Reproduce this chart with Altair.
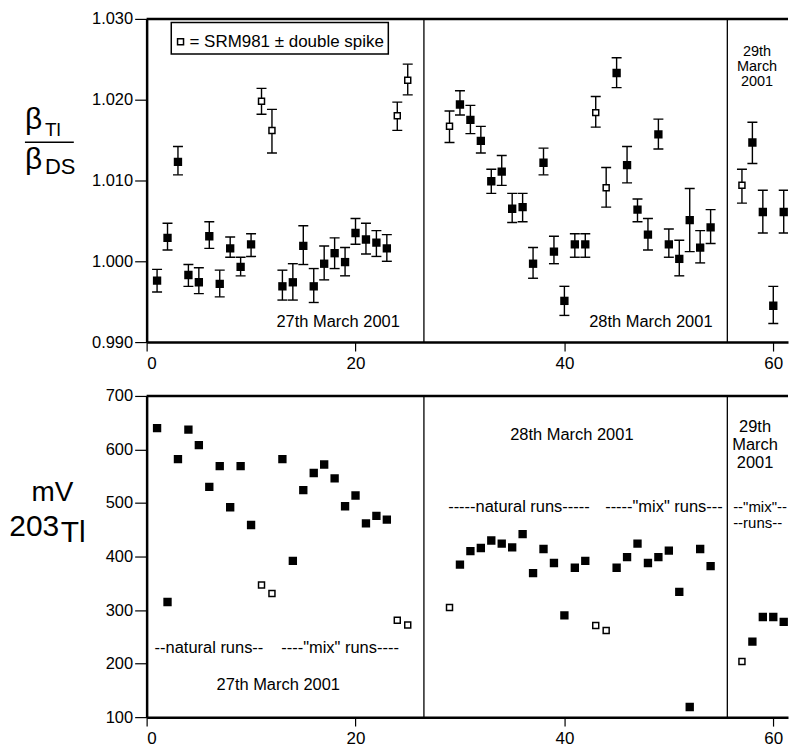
import altair as alt
import pandas as pd

FONT = "Liberation Sans"

# ---- run numbers, one list per measurement day ----
runs_27 = [1, 2, 3, 4, 5, 6, 7, 8, 9, 10, 11, 12, 13, 14, 15, 16, 17, 18, 19, 20,
           21, 22, 23, 24, 25]
runs_28 = [29, 30, 31, 32, 33, 34, 35, 36, 37, 38, 39, 40, 41, 42, 43, 44, 45, 46,
           47, 48, 49, 50, 51, 52, 53, 54]
runs_29 = [57, 58, 59, 60, 61]

# runs measured on SRM981 (+/- double spike), drawn as open squares
srm_runs = [11, 12, 24, 25, 29, 43, 44, 57]

# ---- beta(Tl) / beta(DS) with upper and lower error-bar ends ----
beta_27 = [0.9976, 1.0029, 1.0123, 0.9983, 0.9974, 1.0031, 0.9972, 1.0016, 0.9993,
           1.0021, 1.0198, 1.0162, 0.9969, 0.9974, 1.0019, 0.9969, 0.9997, 1.0010,
           0.9999, 1.0035, 1.0027, 1.0023, 1.0016, 1.0180, 1.0224]
hi_27 = [0.9990, 1.0047, 1.0142, 0.9996, 0.9992, 1.0049, 0.9989, 1.0030, 1.0005,
         1.0034, 1.0214, 1.0188, 0.9989, 0.9997, 1.0044, 0.9991, 1.0019, 1.0029,
         1.0017, 1.0053, 1.0047, 1.0038, 1.0033, 1.0197, 1.0244]
lo_27 = [0.9962, 1.0014, 1.0107, 0.9969, 0.9960, 1.0016, 0.9956, 1.0005, 0.9982,
         1.0006, 1.0182, 1.0134, 0.9952, 0.9952, 0.9996, 0.9949, 0.9977, 0.9991,
         0.9982, 1.0021, 1.0009, 1.0006, 1.0000, 1.0162, 1.0206]

beta_28 = [1.0167, 1.0194, 1.0175, 1.0149, 1.0099, 1.0111, 1.0065, 1.0067, 0.9997,
           1.0122, 1.0012, 0.9951, 1.0021, 1.0021, 1.0184, 1.0091, 1.0233, 1.0119,
           1.0064, 1.0033, 1.0157, 1.0021, 1.0003, 1.0051, 1.0017, 1.0042]
hi_28 = [1.0186, 1.0211, 1.0193, 1.0167, 1.0114, 1.0131, 1.0084, 1.0084, 1.0017,
         1.0140, 1.0031, 0.9969, 1.0034, 1.0034, 1.0204, 1.0116, 1.0252, 1.0142,
         1.0077, 1.0053, 1.0176, 1.0040, 1.0026, 1.0090, 1.0038, 1.0064]
lo_28 = [1.0147, 1.0181, 1.0158, 1.0134, 1.0084, 1.0094, 1.0048, 1.0049, 0.9979,
         1.0107, 0.9997, 0.9933, 1.0005, 1.0005, 1.0166, 1.0067, 1.0215, 1.0097,
         1.0049, 1.0014, 1.0139, 1.0005, 0.9982, 1.0012, 0.9998, 1.0022]

beta_29 = [1.0094, 1.0147, 1.0061, 0.9945, 1.0061]
hi_29 = [1.0114, 1.0172, 1.0088, 0.9969, 1.0088]
lo_29 = [1.0072, 1.0121, 1.0035, 0.9923, 1.0035]

# ---- 203Tl beam intensity (mV) ----
mv_27 = [640, 315, 582, 637, 608, 530, 569, 492, 569, 459, 347, 331, 582, 392, 524,
         556, 572, 546, 494, 514, 462, 476, 469, 281, 272]
mv_28 = [305, 385, 410, 416, 430, 424, 417, 442, 369, 414, 388, 290, 379, 392, 271,
         262, 379, 399, 424, 388, 399, 411, 334, 119, 414, 382]
mv_29 = [204, 241, 287, 287, 278]

# boundaries between measurement days (run axis)
day_breaks = [26.55, 55.6]

runs = runs_27 + runs_28 + runs_29
df = pd.DataFrame({
    "run": runs,
    "beta": beta_27 + beta_28 + beta_29,
    "hi": hi_27 + hi_28 + hi_29,
    "lo": lo_27 + lo_28 + lo_29,
    "mv": mv_27 + mv_28 + mv_29,
    "kind": ["SRM981" if r in srm_runs else "sample" for r in runs],
})

W = 643          # plot width (px)
H_TOP = 324
H_BOT = 322
XMAX = 61.41

one = pd.DataFrame({"k": [0]})

xs = alt.Scale(domain=[0, XMAX], nice=False, zero=False)
x_axis = alt.Axis(values=[0, 20, 40, 60], format="d", title=None, grid=False,
                  labelFont=FONT, labelFontSize=17, labelColor="black", labelPadding=4,
                  tickSize=9, tickWidth=1.2, tickColor="black",
                  domainWidth=2.5, domainColor="black")


def y_axis(values, fmt):
    return alt.Axis(values=values, format=fmt, title=None, grid=False,
                    labelFont=FONT, labelFontSize=16.5, labelColor="black",
                    labelPadding=2, tickSize=12, tickWidth=1.2, tickColor="black",
                    domainWidth=2.5, domainColor="black")


def label(text, px, py, size=16.5, align="center", baseline="middle", clip=False):
    return alt.Chart(one).mark_text(
        text=text, font=FONT, fontSize=size, align=align, baseline=baseline,
        color="black", clip=clip,
    ).encode(x=alt.value(px), y=alt.value(py))


def panel_frame():
    top_edge = alt.Chart(one).mark_rule(color="black", strokeWidth=2.5).encode(
        x=alt.value(0), x2=alt.value(W), y=alt.value(0))
    seps = alt.Chart(pd.DataFrame({"sep": day_breaks})).mark_rule(
        color="black", strokeWidth=1.3).encode(x=alt.X("sep:Q", scale=xs, axis=x_axis))
    return [top_edge, seps]


# ---------------- upper panel: beta ratio ----------------
ys_top = alt.Scale(domain=[0.990, 1.030], nice=False, zero=False)
yax_top = y_axis([0.990, 1.000, 1.010, 1.020, 1.030], ".3f")


def YT(field):
    return alt.Y(field, type="quantitative", scale=ys_top, axis=yax_top)


X = alt.X("run:Q", scale=xs, axis=x_axis)
base = alt.Chart(df)

err = base.mark_rule(color="black", strokeWidth=1.4, clip=True).encode(
    x=X, y=YT("lo"), y2="hi:Q")
cap_hi = base.mark_rule(color="black", strokeWidth=1.4, xOffset=-5, x2Offset=5,
                        clip=True).encode(x=X, x2="run:Q", y=YT("hi"))
cap_lo = base.mark_rule(color="black", strokeWidth=1.4, xOffset=-5, x2Offset=5,
                        clip=True).encode(x=X, x2="run:Q", y=YT("lo"))
pts = base.transform_filter(alt.datum.kind == "sample").mark_point(
    shape="square", filled=True, color="black", size=70, opacity=1, clip=True
).encode(x=X, y=YT("beta"))
pts_open = base.transform_filter(alt.datum.kind == "SRM981").mark_point(
    shape="square", filled=True, fill="white", stroke="black", strokeWidth=1.5,
    size=36, opacity=1, clip=True
).encode(x=X, y=YT("beta"))

legend_box = alt.Chart(one).mark_rect(fill="white", stroke="black", strokeWidth=1.5).encode(
    x=alt.value(24.7), x2=alt.value(242.3), y=alt.value(3.5), y2=alt.value(35.3))
legend_sym = alt.Chart(one).mark_point(
    shape="square", filled=True, fill="white", stroke="black", strokeWidth=1.5,
    size=36, opacity=1).encode(x=alt.value(34), y=alt.value(23))
legend_txt = label("= SRM981 \u00b1 double spike", 43, 23, size=17, align="left")

frac_line = alt.Chart(one).mark_rule(color="black", strokeWidth=1.5).encode(
    x=alt.value(-122), x2=alt.value(-73), y=alt.value(123.7))

top = alt.layer(
    *panel_frame(),
    err, cap_hi, cap_lo, pts, pts_open,
    legend_box, legend_sym, legend_txt,
    label("27th March 2001", 192, 304),
    label("28th March 2001", 505.5, 304),
    label("29th", 612, 33, size=14.5),
    label("March", 612, 48, size=14.5),
    label("2001", 612, 63, size=14.5),
    label("\u03b2", -122, 110, size=30, align="left", baseline="alphabetic"),
    label("Tl", -102, 117, size=19, align="left", baseline="alphabetic"),
    frac_line,
    label("\u03b2", -122, 150, size=30, align="left", baseline="alphabetic"),
    label("DS", -102, 155, size=22, align="left", baseline="alphabetic"),
).properties(width=W, height=H_TOP)

# ---------------- lower panel: 203Tl signal ----------------
ys_bot = alt.Scale(domain=[100, 700], nice=False, zero=False)
yax_bot = y_axis([100, 200, 300, 400, 500, 600, 700], "d")


def YB(field):
    return alt.Y(field, type="quantitative", scale=ys_bot, axis=yax_bot)


mv_pts = base.transform_filter(alt.datum.kind == "sample").mark_point(
    shape="square", filled=True, color="black", size=70, opacity=1, clip=True
).encode(x=X, y=YB("mv"))
mv_open = base.transform_filter(alt.datum.kind == "SRM981").mark_point(
    shape="square", filled=True, fill="white", stroke="black", strokeWidth=1.5,
    size=36, opacity=1, clip=True
).encode(x=X, y=YB("mv"))

bottom = alt.layer(
    *panel_frame(),
    mv_pts, mv_open,
    label("--natural runs--", 8, 253, align="left"),
    label("----\"mix\" runs----", 135, 253, align="left"),
    label("27th March 2001", 132, 290),
    label("28th March 2001", 426.3, 39),
    label("-----natural runs-----", 302.3, 111.7, align="left"),
    label("-----\"mix\" runs---", 459.7, 111.7, align="left"),
    label("--\"mix\"--", 588, 111.2, size=15, align="left", clip=True),
    label("--runs--", 588, 127.8, size=15, align="left", clip=True),
    label("29th", 610, 30.7),
    label("March", 610, 49),
    label("2001", 610, 67.3),
    label("mV", -94.5, 105.7, size=28, baseline="alphabetic"),
    label("203", -112.7, 140.7, size=30, baseline="alphabetic"),
    label("Tl", -86, 146, size=30, align="left", baseline="alphabetic"),
).properties(width=W, height=H_BOT)

chart = alt.vconcat(top, bottom, spacing=17).properties(
    padding={"left": 9, "top": 10, "right": 0, "bottom": 0},
    background="white",
).configure_view(stroke=None)

chart.save("out.html", embed_options={"renderer": "svg", "actions": False})
